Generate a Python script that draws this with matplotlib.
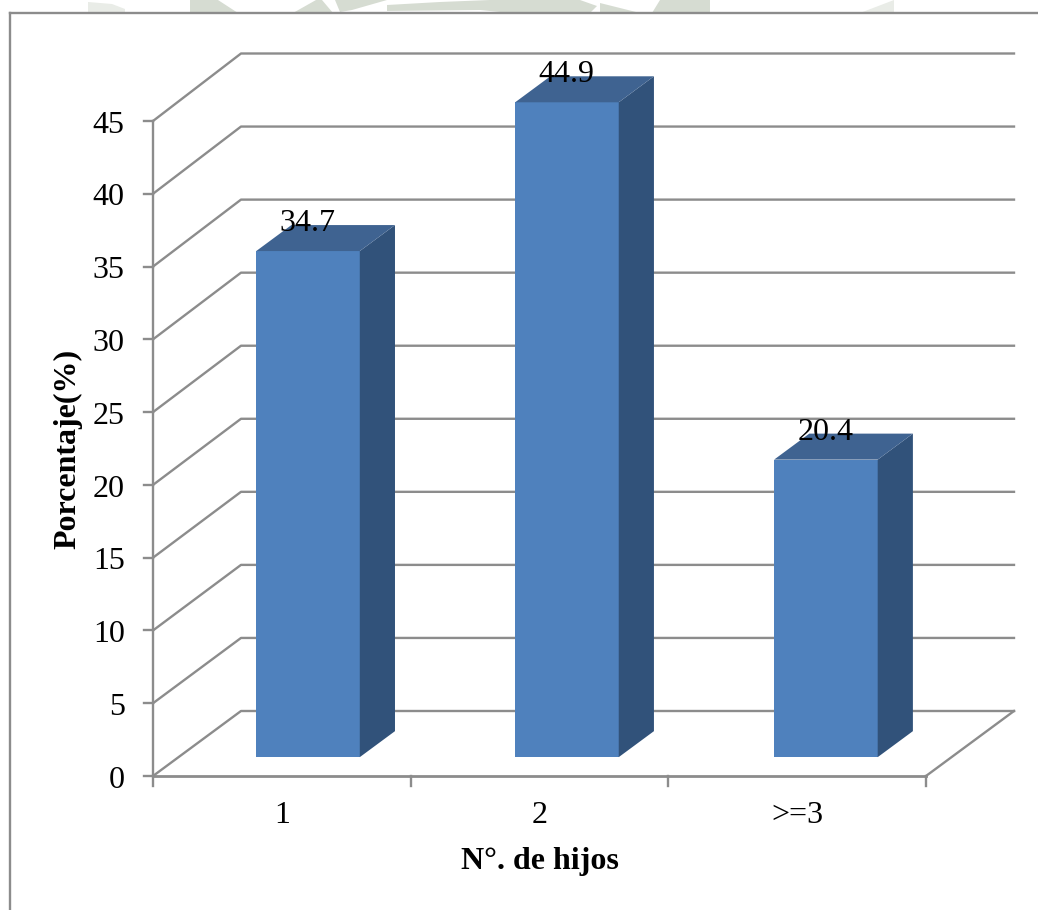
import numpy as np
import matplotlib.pyplot as plt
from matplotlib.patches import Polygon
from matplotlib.transforms import offset_copy

categories = ['1', '2', '>=3']
values = [34.7, 44.9, 20.4]
labels_txt = ['34.7', '44.9', '20.4']
yticks = [0, 5, 10, 15, 20, 25, 30, 35, 40, 45]

plt.rcParams['font.family'] = ['Liberation Serif', 'DejaVu Serif']

W, H = 1038, 910
GRAY = '#8c8c8c'
FRONT = '#4f81bd'
SIDE = '#31527a'
TOP = '#3f6391'
MARK = '#d6dcd2'
MARK2 = '#e9ece7'

fig = plt.figure(figsize=(W/100, H/100), dpi=100)
fig.patch.set_facecolor('white')

# watermark scraps showing above the chart frame (pixel coords)
def scrap(xs, color):
    pts = [(x/W, 1-y/H) for x, y in xs]
    fig.add_artist(Polygon(pts, closed=True, fc=color, ec='none', transform=fig.transFigure))

scrap([(88, 2), (112, 4), (125, 9), (125, 13), (88, 13)], MARK2)
scrap([(190, 0), (218, 0), (238, 13), (190, 13)], MARK)
scrap([(293, 13), (316, 0), (322, 0), (333, 13)], MARK)
scrap([(335, 0), (387, 0), (352, 10), (340, 12)], MARK)
scrap([(387, 5), (440, 2), (490, 0), (580, 0), (597, 6), (590, 13), (510, 13), (480, 10), (387, 11)], MARK)
scrap([(600, 3), (640, 13), (600, 13)], MARK)
scrap([(652, 13), (660, 0), (710, 0), (710, 13)], MARK)
scrap([(860, 13), (894, 0), (894, 13)], MARK2)

# axes box = front floor edge, 0 to 45 on y, 3 categories on x
ax = fig.add_axes([153/W, (H-776)/H, 773/W, 655/H])
ax.set_xlim(0, 3)
ax.set_ylim(0, 45)
ax.axis('off')

# depth of the fake 3d box, in data units (a bit deeper at the top)
dx = 88/773*3
dy0 = 65/655*45
dy1 = 67.5/655*45

def depth_y(v):
    return dy0 + (dy1-dy0)*v/45

# walls and gridlines
for v in yticks:
    ax.plot([0, dx, 3+dx], [v, v+depth_y(v), v+depth_y(v)], color=GRAY, lw=1.7, clip_on=False, zorder=1)
    ax.plot([-0.035, 0], [v, v], color=GRAY, lw=1.7, clip_on=False, zorder=1)
ax.plot([0, 0], [0, 45], color=GRAY, lw=1.7, clip_on=False, zorder=1)
ax.plot([0, 3], [0, 0], color=GRAY, lw=2, clip_on=False, zorder=1)
ax.plot([3, 3+dx], [0, dy0], color=GRAY, lw=1.7, clip_on=False, zorder=1)
for i in range(4):
    ax.plot([i, i], [0, -0.7], color=GRAY, lw=1.7, clip_on=False, zorder=1)

# bars: front face, side, top
bw = 0.402
d0, d1 = 0.29, 0.69
ddx = (d1-d0)*dx
ddy = (d1-d0)*dy0
for i, v in enumerate(values):
    xl = (i + 0.5)*1.005 - bw/2 + d0*dx
    xr = xl + bw
    y0 = d0*dy0
    y1 = y0 + v*1.002
    ax.add_patch(Polygon([(xl, y0), (xr, y0), (xr, y1), (xl, y1)], fc=FRONT, ec='none', zorder=3, clip_on=False))
    ax.add_patch(Polygon([(xr, y0), (xr+ddx, y0+ddy), (xr+ddx, y1+ddy), (xr, y1)], fc=SIDE, ec='none', zorder=3, clip_on=False))
    ax.add_patch(Polygon([(xl, y1), (xr, y1), (xr+ddx, y1+ddy), (xl+ddx, y1+ddy)], fc=TOP, ec='none', zorder=3, clip_on=False))
    ax.text(xl + bw/2 + 0.5*ddx - 0.07, y1 + ddy*1.05, labels_txt[i], ha='center', va='center',
            fontsize=23, color='black', zorder=4, clip_on=False)

# tick labels
ytrans = offset_copy(ax.transData, fig=fig, x=0, y=-3, units='points')
for v in yticks:
    ax.text(-0.11, v, str(v), ha='right', va='center', fontsize=23, color='black', clip_on=False, transform=ytrans)
for i, c in enumerate(categories):
    ax.text(i + 0.5, -2.7, c, ha='center', va='center', fontsize=23, color='black', clip_on=False)

fig.text(540/W, 1-861/H, 'N°. de hijos', ha='center', va='center', fontsize=23, fontweight='bold')
fig.text(68/W, 1-449/H, 'Porcentaje(%)', ha='center', va='center', rotation=90, fontsize=23, fontweight='bold')

# outer frame of the chart, only top and left show in the page
fig.add_artist(plt.Line2D([10/W, 10/W], [0, 1-13/H], color=GRAY, lw=1.7))
fig.add_artist(plt.Line2D([10/W, 1], [1-13/H, 1-13/H], color=GRAY, lw=1.7))

fig.savefig('out.png', dpi=100)
